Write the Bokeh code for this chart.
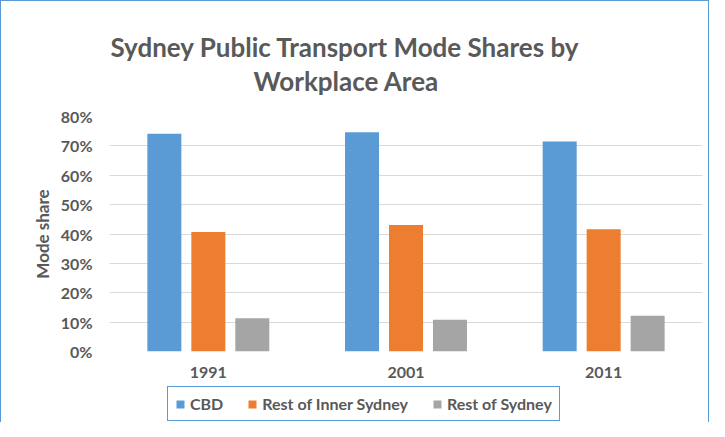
from bokeh.plotting import figure
from bokeh.layouts import column
from bokeh.models import (ColumnDataSource, FactorRange, FixedTicker, NumeralTickFormatter,
                          Title, Legend, LegendItem)
from bokeh.transform import dodge
from bokeh.embed import file_html
from bokeh.resources import INLINE

# ---- data ----
years = ["1991", "2001", "2011"]
cbd = [0.741, 0.746, 0.715]
rest_inner = [0.407, 0.431, 0.416]
rest_sydney = [0.113, 0.108, 0.122]
series_names = ["CBD", "Rest of Inner Sydney", "Rest of Sydney"]
series_colors = ["#5B9BD5", "#ED7D31", "#A5A5A5"]
y_ticks = [0.0, 0.1, 0.2, 0.3, 0.4, 0.5, 0.6, 0.7, 0.8]
title_lines = ["Sydney Public Transport Mode Shares by", "Workplace Area"]
y_label = "Mode share"

FONT = "Lato"
TXT = "#595959"
FS = "16px"
BLUE_BORDER = "#5B9BD5"

source = ColumnDataSource(dict(year=years, cbd=cbd, rest_inner=rest_inner, rest_sydney=rest_sydney))
keys = ["cbd", "rest_inner", "rest_sydney"]
offsets = [-0.2225, 0.0, 0.2225]

x_range = FactorRange(*years)
p = figure(width=707, height=385, x_range=x_range, y_range=(0, 0.8),
           output_backend="svg", toolbar_location=None,
           min_border_left=108, min_border_right=6, min_border_top=115, min_border_bottom=35)
p.outline_line_color = None
p.background_fill_color = "white"
p.border_fill_color = "white"

for k, off, col in zip(keys, offsets, series_colors):
    p.vbar(x=dodge("year", off, range=x_range), top=k, width=0.172, source=source,
           fill_color=col, line_color=None)

# axes
p.yaxis.ticker = FixedTicker(ticks=y_ticks)
p.yaxis.formatter = NumeralTickFormatter(format="0%")
p.yaxis.axis_line_color = None
p.yaxis.major_tick_line_color = None
p.yaxis.minor_tick_line_color = None
p.yaxis.major_tick_out = 0
p.yaxis.major_label_standoff = 17
p.yaxis.major_label_text_font = FONT
p.yaxis.major_label_text_font_style = "bold"
p.yaxis.major_label_text_font_size = FS
p.yaxis.major_label_text_color = TXT
p.yaxis.axis_label = y_label
p.yaxis.axis_label_text_font = FONT
p.yaxis.axis_label_text_font_style = "bold"
p.yaxis.axis_label_text_font_size = "17px"
p.yaxis.axis_label_text_color = TXT
p.yaxis.axis_label_standoff = 5

p.xaxis.axis_line_color = None
p.xaxis.major_tick_line_color = None
p.xaxis.minor_tick_line_color = None
p.xaxis.major_tick_out = 0
p.xaxis.major_label_standoff = 15
p.xaxis.major_label_text_font = FONT
p.xaxis.major_label_text_font_style = "bold"
p.xaxis.major_label_text_font_size = FS
p.xaxis.major_label_text_color = TXT

p.xgrid.grid_line_color = None
p.ygrid.grid_line_color = "#D9D9D9"
p.ygrid.grid_line_width = 1.2

# title: spacer nearest the frame, then line 2, then line 1
spacer = Title(text=" ", text_font_size="2px", standoff=16, align="left")
t2 = Title(text=title_lines[1], align="left", offset=144, standoff=0,
           text_font=FONT, text_font_style="bold", text_font_size="26px", text_color=TXT)
t1 = Title(text=title_lines[0], align="left", offset=1, standoff=0,
           text_font=FONT, text_font_style="bold", text_font_size="26px", text_color=TXT)
p.add_layout(spacer, "above")
p.add_layout(t2, "above")
p.add_layout(t1, "above")

# legend strip (separate small figure so the legend is not clipped by the main frame)
lf = figure(width=707, height=36, output_backend="svg", toolbar_location=None,
            x_axis_type=None, y_axis_type=None, min_border=0,
            x_range=x_range, y_range=(0, 1))
lf.outline_line_color = None
lf.grid.visible = False
# zero-height bars (top == bottom) serve only as legend swatches
proxies = [lf.vbar(x="year", top=k, bottom=k, width=0.172, source=source,
                   fill_color=c, line_color=None)
           for k, c in zip(keys, series_colors)]
legend = Legend(items=[LegendItem(label=n, renderers=[r]) for n, r in zip(series_names, proxies)],
                orientation="horizontal", location=(58, 1),
                glyph_width=10, glyph_height=10, label_standoff=5, spacing=24, padding=7,
                label_height=16,
                margin=0, border_line_color=BLUE_BORDER, border_line_width=1.2,
                border_line_alpha=1.0,
                label_text_font=FONT, label_text_font_style="bold", label_text_font_size=FS,
                label_text_color=TXT, background_fill_color="white", background_fill_alpha=1)
lf.add_layout(legend, "center")

layout = column(p, lf, spacing=0)
layout.styles = {"border-top": "1px solid " + BLUE_BORDER, "border-left": "1px solid " + BLUE_BORDER,
                 "border-right": "1px solid " + BLUE_BORDER}

open("out.html", "w").write(file_html(layout, INLINE))
